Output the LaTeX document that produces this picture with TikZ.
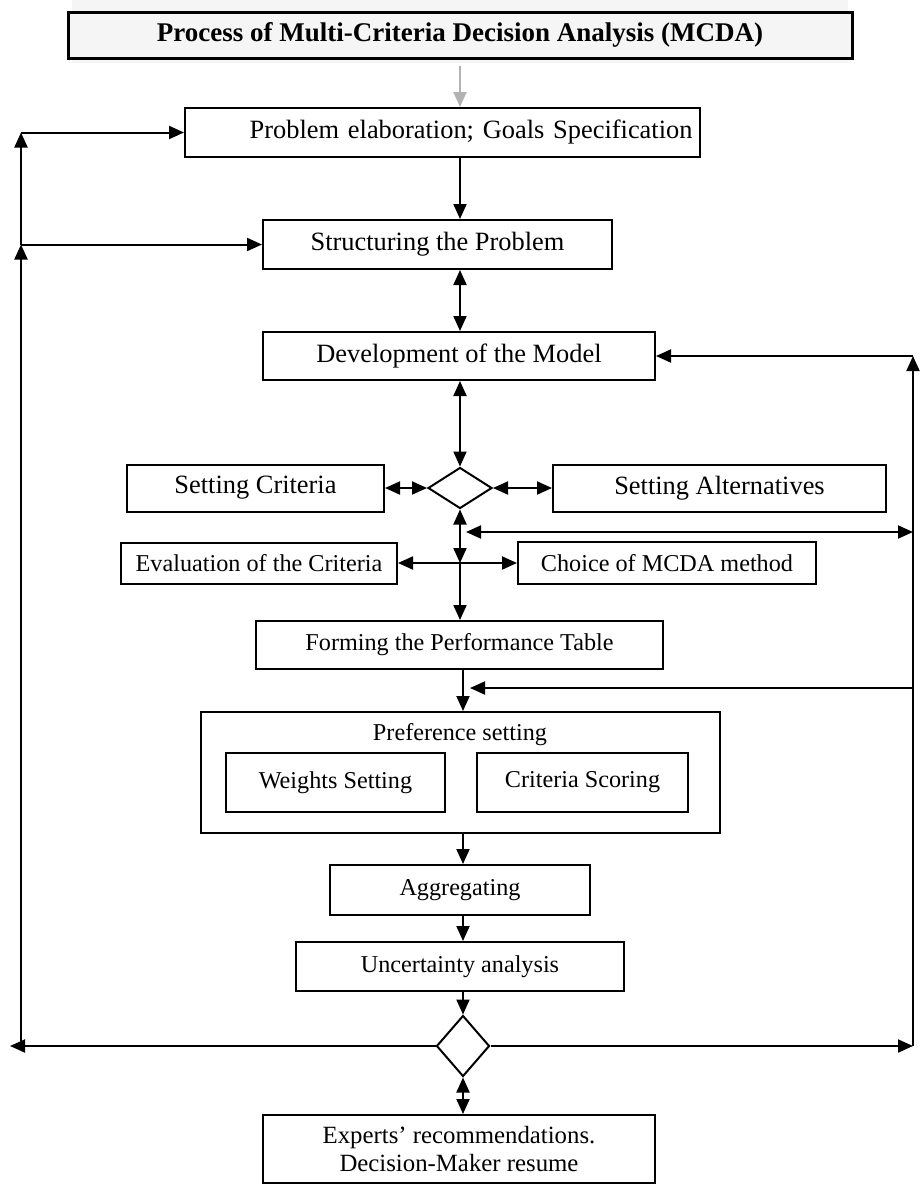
\documentclass[tikz,border=0pt]{standalone}
\usepackage{fontspec}
\setmainfont{Liberation Serif}
\usetikzlibrary{shapes.geometric,arrows.meta,calc}
\begin{document}
\begin{tikzpicture}[x=0.5pt,y=-0.5pt,
 box/.style={draw,line width=1pt,inner sep=0pt,align=center,font=\fontsize{12.1}{14.5}\selectfont},
 bigbox/.style={box,font=\fontsize{13.2}{16}\selectfont},
 arr/.style={line width=1pt,-{Triangle[length=7.5pt,width=6.5pt]}},
 darr/.style={line width=1pt,{Triangle[length=7.5pt,width=6.5pt]}-{Triangle[length=7.5pt,width=6.5pt]}},
 dia/.style={draw,line width=1pt,shape=diamond,inner sep=0pt}]
\useasboundingbox (0,0) rectangle (920,1184);
% title band
\fill[black!4] (72,0) rectangle (848,63);
\node[draw,line width=1.5pt,fill=black!4,inner sep=0pt,minimum width=392pt,minimum height=23pt,
  font=\fontsize{13.5}{16}\selectfont\bfseries] (title) at (460,35) {Process of Multi-Criteria Decision Analysis (MCDA)};
% columns
\coordinate (cx) at (460,0);
\coordinate (cy) at (463,0);
\coordinate (lx) at (21,0);
\coordinate (rx) at (913,0);
% boxes
\node[bigbox,minimum width=257.5pt,minimum height=24.5pt,text width=250pt,align=right] (prob) at (442.5,132.5) {Problem elaboration; Goals Specification};
\node[bigbox,minimum width=174.5pt,minimum height=24.5pt] (struct) at (437.5,244.5) {Structuring the Problem};
\node[bigbox,minimum width=196pt,minimum height=24pt] (devel) at (459,356) {Development of the Model};
\node[bigbox,minimum width=128.5pt,minimum height=23.5pt] (crit) at (255.5,488) {Setting Criteria};
\node[bigbox,minimum width=166.5pt,minimum height=23.5pt] (alt) at (719.5,488) {Setting Alternatives};
\node[dia,minimum width=32pt,minimum height=20.5pt] (dia1) at (460,488) {};
\node[box,minimum width=138pt,minimum height=20.5pt] (eval) at (259,563) {Evaluation of the Criteria};
\node[box,minimum width=149pt,minimum height=21pt] (choice) at (667,563) {Choice of MCDA method};
\node[box,minimum width=203.5pt,minimum height=24pt] (form) at (459.5,645) {Forming the Performance Table};
\node[box,minimum width=259.5pt,minimum height=60.5pt] (pref) at (460.5,772.5) {};
\node[font=\fontsize{12.1}{14.5}\selectfont,inner sep=0pt] (preft) at (460,735) {Preference setting};
\node[box,minimum width=109.5pt,minimum height=29.5pt] (weights) at (335.5,782.5) {Weights Setting};
\node[box,minimum width=105.5pt,minimum height=29.5pt] (scoring) at (582.5,782.5) {Criteria Scoring};
\node[box,minimum width=130pt,minimum height=25pt] (aggr) at (460,890) {Aggregating};
\node[box,minimum width=164pt,minimum height=24.5pt] (unc) at (460,966.5) {Uncertainty analysis};
\node[dia,minimum width=26.5pt,minimum height=30.5pt] (dia2) at (463,1046) {};
\node[box,minimum width=196pt,minimum height=34pt,font=\fontsize{12.4}{14}\selectfont] (rec) at (459,1149) {Experts’ recommendations.\\Decision-Maker resume};
% helper coordinates
\coordinate (m1) at (466,532);
\coordinate (m2) at (470,688);
\coordinate (j1) at (cx |- eval.east);
\coordinate (bl) at (10,1046);
% connectors
\draw[line width=1pt,black!30,-{Triangle[length=7.5pt,width=6.5pt]}] ([yshift=-3pt]title.south) -- (title.south |- prob.north);
\draw[arr] (cx |- prob.south) -- (cx |- struct.north);
\draw[darr] (cx |- struct.south) -- (cx |- devel.north);
\draw[darr] (cx |- devel.south) -- (dia1.north);
\draw[darr] (crit.east) -- (dia1.west);
\draw[darr] (dia1.east) -- (alt.west);
\draw[darr] (dia1.south) -- (j1);
\draw[darr] (eval.east) -- (choice.west);
\draw[arr] (j1) -- (cx |- form.north);
\draw[darr] (m1) -- (rx |- m1);
\draw[arr] (rx |- m2) -- (m2);
\draw[arr] (cy |- form.south) -- (cy |- pref.north);
\draw[arr] (cy |- pref.south) -- (cy |- aggr.north);
\draw[arr] (cy |- aggr.south) -- (cy |- unc.north);
\draw[arr] (cy |- unc.south) -- (dia2.north);
\draw[darr] (dia2.south) -- (cy |- rec.north);
% right loop
\draw[arr] (dia2.east) -- (rx |- dia2.east);
\draw[arr] (rx |- dia2.east) -- (rx |- devel.east);
\draw[arr] (rx |- devel.east) -- (devel.east);
% left loop
\draw[arr] (dia2.west) -- (bl);
\draw[arr] (lx |- dia2.west) -- (lx |- struct.west);
\draw[arr] (lx |- struct.west) -- (struct.west);
\draw[arr] (lx |- struct.west) -- (lx |- prob.west);
\draw[arr] (lx |- prob.west) -- (prob.west);
\end{tikzpicture}
\end{document}
